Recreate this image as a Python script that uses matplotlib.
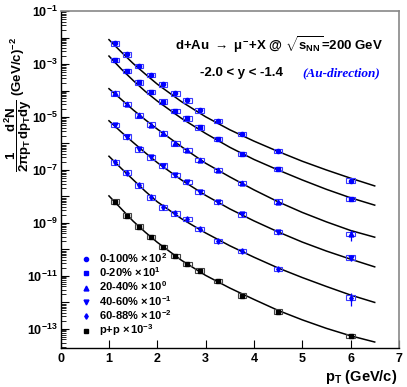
import numpy as np
import matplotlib
matplotlib.use('Agg')
import matplotlib.pyplot as plt
from matplotlib.lines import Line2D
from matplotlib.ticker import FixedLocator, FuncFormatter, NullLocator

plt.rcParams['font.family'] = ['Liberation Sans', 'DejaVu Sans']
plt.rcParams['font.weight'] = 'bold'
plt.rcParams['mathtext.fontset'] = 'custom'
plt.rcParams['mathtext.rm'] = 'Liberation Sans:bold'
plt.rcParams['mathtext.it'] = 'Liberation Sans:bold'
plt.rcParams['mathtext.bf'] = 'Liberation Sans:bold'

# pT bins of the measurement (GeV/c)
pt = [1.125, 1.375, 1.625, 1.875, 2.125, 2.375, 2.625, 2.875, 3.25, 3.75, 4.5, 6.0]

# scaled invariant yields
y_0_100 = [6.0e-3, 2.3e-3, 8.3e-4, 3.8e-4, 1.7e-4, 7.8e-5, 4.2e-5, 1.8e-5, 7.1e-6, 2.3e-6, 5.2e-7, 4.0e-8]
y_0_20 = [1.41e-3, 5.5e-4, 2.04e-4, 8.7e-5, 3.8e-5, 1.7e-5, 8.9e-6, 4.1e-6, 1.45e-6, 4.0e-7, 1.1e-7, 8.1e-9]
y_20_40 = [7.8e-5, 3.1e-5, 1.15e-5, 5.2e-6, 2.4e-6, 1.02e-6, 5.6e-7, 2.4e-7, 1.0e-7, 3.2e-8, 6.3e-9, 3.8e-10]
y_40_60 = [5.0e-6, 1.8e-6, 6.0e-7, 3.0e-7, 1.45e-7, 6.5e-8, 3.5e-8, 1.5e-8, 6.2e-9, 2.1e-9, 4.5e-10, 4.9e-11]
y_60_88 = [1.95e-7, 7.9e-8, 2.6e-8, 9.3e-9, 3.9e-9, 2.3e-9, 1.4e-9, 6.0e-10, 2.1e-10, 8.7e-11, 1.8e-11, 1.5e-12]
y_pp = [6.3e-9, 1.9e-9, 7.2e-10, 2.9e-10, 1.23e-10, 5.6e-11, 2.8e-11, 1.6e-11, 6.5e-12, 1.8e-12, 4.5e-13, 5.5e-14]

# relative stat. errors (only visible at the last point)
e_0_100 = [0.03] * 11 + [0.10]
e_0_20 = [0.03] * 11 + [0.10]
e_20_40 = [0.03] * 11 + [0.45]
e_40_60 = [0.03] * 11 + [0.25]
e_60_88 = [0.03] * 11 + [0.50]
e_pp = [0.02] * 11 + [0.20]

# fit curves
pt_fit = [1.0, 1.25, 1.5, 1.75, 2.0, 2.5, 3.0, 3.5, 4.0, 4.5, 5.0, 5.5, 6.0, 6.5]
f_0_100 = [8.3e-3, 2.9e-3, 1.05e-3, 4.2e-4, 1.74e-4, 3.8e-5, 1.02e-5, 3.3e-6, 1.23e-6, 5.0e-7, 2.14e-7, 1.0e-7, 4.9e-8, 2.5e-8]
f_0_20 = [2.0e-3, 6.6e-4, 2.4e-4, 9.3e-5, 4.0e-5, 8.9e-6, 2.4e-6, 7.2e-7, 2.5e-7, 1.0e-7, 4.2e-8, 1.86e-8, 8.9e-9, 4.7e-9]
f_20_40 = [1.17e-4, 4.7e-5, 1.86e-5, 7.9e-6, 3.5e-6, 7.6e-7, 1.8e-7, 5.5e-8, 1.78e-8, 6.3e-9, 2.5e-9, 1.1e-9, 5.2e-10, 2.9e-10]
f_40_60 = [7.2e-6, 2.75e-6, 1.1e-6, 4.5e-7, 1.9e-7, 4.2e-8, 1.1e-8, 3.4e-9, 1.2e-9, 4.6e-10, 1.9e-10, 8.7e-11, 4.3e-11, 2.2e-11]
f_60_88 = [3.3e-7, 1.17e-7, 4.3e-8, 1.58e-8, 6.3e-9, 1.45e-9, 4.2e-10, 1.38e-10, 5.1e-11, 2.0e-11, 8.7e-12, 4.0e-12, 1.9e-12, 1.0e-12]
f_pp = [1.05e-8, 3.5e-9, 1.17e-9, 4.5e-10, 1.86e-10, 3.9e-11, 1.05e-11, 3.5e-12, 1.3e-12, 5.0e-13, 2.2e-13, 1.05e-13, 5.5e-14, 3.2e-14]

labels = [r'0-100% $\times\,10^{2}$', r'0-20% $\times\,10^{1}$', r'20-40% $\times\,10^{0}$',
          r'40-60% $\times\,10^{-1}$', r'60-88% $\times\,10^{-2}$', r'p+p $\times\,10^{-3}$']

series = [
    (y_0_100, e_0_100, f_0_100, 'o', 3.0, 'blue', '#3a3aff'),
    (y_0_20, e_0_20, f_0_20, 's', 2.8, 'blue', '#3a3aff'),
    (y_20_40, e_20_40, f_20_40, '^', 3.5, 'blue', '#3a3aff'),
    (y_40_60, e_40_60, f_40_60, 'v', 3.5, 'blue', '#3a3aff'),
    (y_60_88, e_60_88, f_60_88, 'd', 2.8, 'blue', '#3a3aff'),
    (y_pp, e_pp, f_pp, 's', 2.8, 'black', '#444444'),
]

fig = plt.figure(figsize=(4.07, 3.87), dpi=100)
ax = fig.add_axes([0.149, 0.1015, 0.831, 0.870])

box_w = 0.17      # width of syst. boxes in pT
box_f = 1.22      # half height of syst. boxes (factor)

handles = []
for y, e, f, mk, ms, col, bcol in series:
    y = np.array(y)
    e = np.array(e)
    ax.plot(pt_fit, f, color='black', lw=1.1, zorder=2)
    ax.bar(pt, y * box_f - y / box_f, bottom=y / box_f, width=box_w,
           facecolor='none', edgecolor=bcol, lw=0.8, zorder=3)
    ax.errorbar(pt, y, yerr=e * y, fmt=mk, ms=ms, color=col, ecolor=col,
                elinewidth=0.9, capsize=0, zorder=4)
    handles.append(Line2D([], [], ls='none', marker=mk, ms=ms, color=col))

ax.set_yscale('log')
ax.set_xlim(0, 7)
ax.set_ylim(1.95e-14, 1e-1)

decades = [10.0 ** k for k in range(-14, 0)]
ax.yaxis.set_major_locator(FixedLocator(decades))
ax.yaxis.set_major_formatter(FuncFormatter(
    lambda v, p: r'$10^{%d}$' % round(np.log10(v)) if round(np.log10(v)) % 2 else ''))
ax.yaxis.set_minor_locator(FixedLocator([m * d for d in decades for m in range(2, 10)]))
ax.yaxis.set_minor_formatter(FuncFormatter(lambda v, p: ''))
ax.xaxis.set_major_locator(FixedLocator(range(8)))
ax.xaxis.set_minor_locator(NullLocator())

ax.tick_params(axis='both', which='both', direction='in', top=False, right=False, labelsize=9)
ax.tick_params(axis='x', which='major', length=6, width=0.8, pad=4)
ax.tick_params(axis='y', which='major', length=6, width=0.8, pad=2)
ax.tick_params(axis='y', which='minor', length=3.5, width=0.6)

for s in ['left', 'bottom']:
    ax.spines[s].set_linewidth(1.0)
for s in ['top', 'right']:
    ax.spines[s].set_color('#888888')
    ax.spines[s].set_linewidth(1.2)

fig.text(279.5 / 407, 1 - 45 / 387,
         r'd+Au $\rightarrow$ $\mu^{-}$+X @ $\sqrt{s_{NN}}$=200 GeV',
         ha='center', va='center', fontsize=9.5, fontweight='bold')
fig.text(200 / 407, 1 - 73 / 387, r'-2.0 < y < -1.4',
         ha='left', va='center', fontsize=9.5, fontweight='bold')
fig.text(302 / 407, 1 - 73 / 387, '(Au-direction)', ha='left', va='center',
         fontsize=9.5, color='blue', family='Liberation Serif', style='italic', fontweight='bold')

fig.text(18 / 407, 1 - 104 / 387,
         r'$\dfrac{1}{2\pi p_{T}}\dfrac{d^{2}N}{dp_{T}dy}$ (GeV/c)$^{-2}$',
         rotation=90, ha='center', va='center', fontsize=9.5, fontweight='bold')
fig.text(397 / 407, 1 - 377 / 387, r'p$_{T}$ (GeV/c)', ha='right', va='center',
         fontsize=10.5, fontweight='bold')

ax.legend(handles, labels, loc='lower left', bbox_to_anchor=(81.5 / 407, 1 - 338.5 / 387),
          bbox_transform=fig.transFigure, frameon=False, fontsize=8,
          handlelength=0.8, handletextpad=0.8, labelspacing=0.05,
          borderpad=0, borderaxespad=0)

fig.savefig('out.png', dpi=100)
